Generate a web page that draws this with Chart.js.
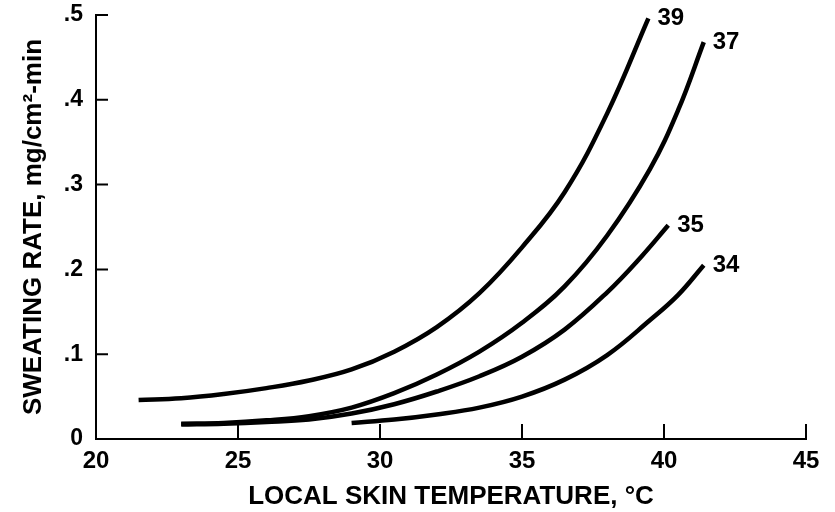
<!DOCTYPE html>
<html>
<head>
<meta charset="utf-8">
<script src="https://cdn.jsdelivr.net/npm/chart.js@4.4.1/dist/chart.umd.min.js"></script>
<style>
  html, body { margin: 0; padding: 0; background: #fff; }
  #wrap { width: 835px; height: 512px; }
</style>
</head>
<body>
<div id="wrap"><canvas id="sweat-chart" width="835" height="512"></canvas></div>
<script>
// Sweating rate vs local skin temperature, one curve per core temp
const xTicks = [20, 25, 30, 35, 40, 45];
const yTicks = [0, 0.1, 0.2, 0.3, 0.4, 0.5];

const curveLabels = ["39", "37", "35", "34"];

const temp39 = [21.5, 23, 24.5, 26, 27.5, 29, 30.5, 32, 33.5, 35, 36.5, 38, 39.45];
const rate39 = [0.046, 0.048, 0.053, 0.060, 0.069, 0.082, 0.103, 0.132, 0.172, 0.226, 0.291, 0.384, 0.496];

const temp37 = [23, 24.5, 26, 27.5, 29, 30.5, 32, 33.5, 35, 36.5, 38, 39.5, 40.5, 41.4];
const rate37 = [0.018, 0.019, 0.022, 0.027, 0.037, 0.054, 0.076, 0.103, 0.137, 0.180, 0.240, 0.318, 0.388, 0.468];

const temp35 = [23, 24.5, 26, 27.5, 29, 30.5, 32, 33.5, 35, 36.5, 38, 39.2, 40.15];
const rate35 = [0.017, 0.018, 0.020, 0.023, 0.030, 0.041, 0.056, 0.074, 0.097, 0.129, 0.173, 0.215, 0.252];

const temp34 = [29, 30.5, 32, 33.5, 35, 36.5, 38, 39.5, 40.5, 41.4];
const rate34 = [0.019, 0.023, 0.029, 0.037, 0.050, 0.070, 0.099, 0.140, 0.170, 0.205];

const FONT = "'Liberation Sans', Arial, Helvetica, sans-serif";

function pts(xs, ys) {
  return xs.map((x, i) => ({ x, y: ys[i] }));
}

function curve(label, xs, ys) {
  return {
    label,
    data: pts(xs, ys),
    borderColor: "#000",
    borderWidth: 4.5,
    borderCapStyle: "butt",
    pointRadius: 0,
    tension: 0.4,
    fill: false,
  };
}

// tick marks drawn inside the plot area, like the original figure
const innerTicks = {
  id: "innerTicks",
  afterDraw(chart) {
    const { ctx, scales: { x, y } } = chart;
    ctx.save();
    ctx.strokeStyle = "#000";
    ctx.lineWidth = 2;
    ctx.beginPath();
    xTicks.forEach((v) => {
      const px = x.getPixelForValue(v);
      ctx.moveTo(px, y.bottom);
      ctx.lineTo(px, y.bottom - 15);
    });
    yTicks.forEach((v) => {
      const py = y.getPixelForValue(v);
      ctx.moveTo(x.left, py);
      ctx.lineTo(x.left + 12, py);
    });
    ctx.stroke();
    ctx.restore();
  },
};

// number next to the end of each curve
const endLabels = {
  id: "endLabels",
  afterDatasetsDraw(chart) {
    const { ctx } = chart;
    ctx.save();
    ctx.fillStyle = "#000";
    ctx.font = `bold 24px ${FONT}`;
    ctx.textAlign = "left";
    ctx.textBaseline = "middle";
    chart.data.datasets.forEach((ds, i) => {
      const meta = chart.getDatasetMeta(i);
      const last = meta.data[meta.data.length - 1];
      ctx.fillText(ds.label, last.x + 9, last.y);
    });
    ctx.restore();
  },
};

new Chart(document.getElementById("sweat-chart"), {
  type: "line",
  data: {
    datasets: [
      curve(curveLabels[0], temp39, rate39),
      curve(curveLabels[1], temp37, rate37),
      curve(curveLabels[2], temp35, rate35),
      curve(curveLabels[3], temp34, rate34),
    ],
  },
  options: {
    responsive: false,
    animation: false,
    layout: { padding: { top: 15, right: 29, left: 0, bottom: 0 } },
    plugins: {
      legend: { display: false },
      tooltip: { enabled: false },
    },
    scales: {
      x: {
        type: "linear",
        min: 20,
        max: 45,
        afterFit(scale) {
          scale.height = 73;
          scale.paddingLeft = 0;
          scale.paddingRight = 0;
        },
        afterBuildTicks(scale) { scale.ticks = xTicks.map((v) => ({ value: v })); },
        grid: { display: false, drawTicks: false },
        border: { display: true, color: "#000", width: 2 },
        ticks: {
          color: "#000",
          padding: 8,
          maxRotation: 0,
          font: { family: FONT, size: 24, weight: "bold" },
        },
        title: {
          display: true,
          text: "LOCAL SKIN TEMPERATURE, °C",
          color: "#000",
          padding: { top: 0, bottom: 0 },
          font: { family: FONT, size: 26, weight: "bold" },
        },
      },
      y: {
        type: "linear",
        min: 0,
        max: 0.5,
        afterFit(scale) {
          scale.width = 96;
          scale.paddingTop = 0;
          scale.paddingBottom = 0;
        },
        afterBuildTicks(scale) { scale.ticks = yTicks.map((v) => ({ value: v })); },
        grid: { display: false, drawTicks: false },
        border: { display: true, color: "#000", width: 2 },
        ticks: {
          color: "#000",
          padding: 13,
          font: { family: FONT, size: 23, weight: "bold" },
          callback: (v) => (v === 0 ? "0" : v.toFixed(1).replace(/^0/, "")),
        },
        title: {
          display: true,
          text: "SWEATING RATE, mg/cm²-min",
          color: "#000",
          padding: { top: 18, bottom: 0 },
          font: { family: FONT, size: 26, weight: "bold" },
        },
      },
    },
  },
  plugins: [innerTicks, endLabels],
});
</script>
</body>
</html>
